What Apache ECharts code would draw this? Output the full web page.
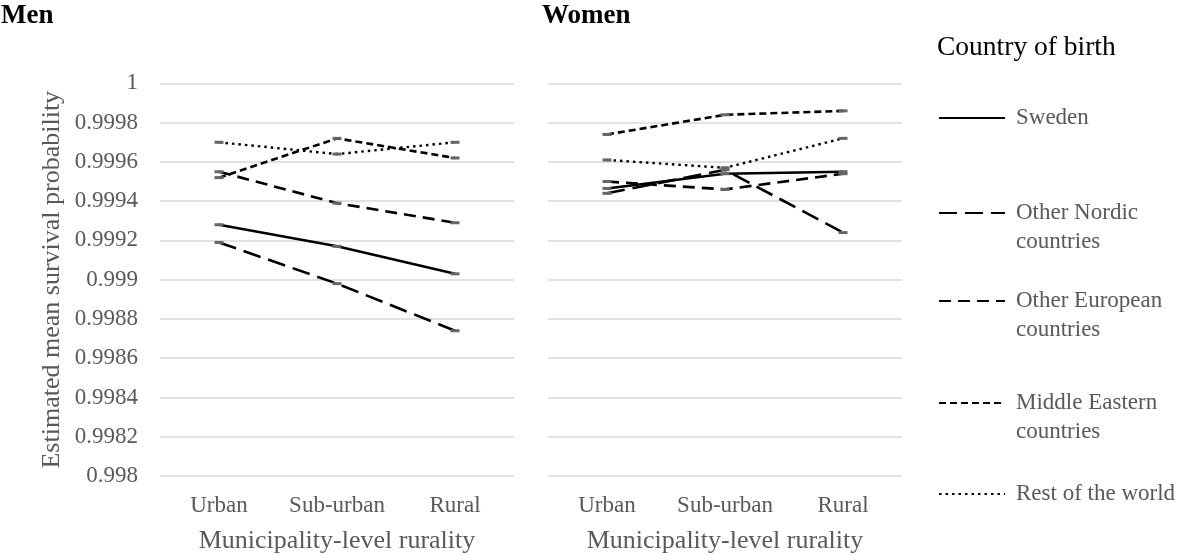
<!DOCTYPE html>
<html>
<head>
<meta charset="utf-8">
<script src="https://cdn.jsdelivr.net/npm/echarts@6/dist/echarts.min.js"></script>
<style>
  html, body { margin: 0; padding: 0; background: #fff; }
  #chart { width: 1179px; height: 555px; }
</style>
</head>
<body>
<div id="chart"></div>
<script>
// Municipality-level rurality categories
const categories = ['Urban', 'Sub-urban', 'Rural'];

// Country-of-birth groups
const countries = [
  'Sweden',
  'Other Nordic countries',
  'Other European countries',
  'Middle Eastern countries',
  'Rest of the world'
];

// Estimated mean survival probability, men
const menSweden   = [0.99928, 0.99917, 0.99903];
const menNordic   = [0.99919, 0.99898, 0.99874];
const menEuropean = [0.99955, 0.99939, 0.99929];
const menMidEast  = [0.99952, 0.99972, 0.99962];
const menRest     = [0.99970, 0.99964, 0.99970];

// Estimated mean survival probability, women
const womenSweden   = [0.999465, 0.99954, 0.99955];
const womenNordic   = [0.99944, 0.99956, 0.99924];
const womenEuropean = [0.99950, 0.99946, 0.99954];
const womenMidEast  = [0.99974, 0.99984, 0.99986];
const womenRest     = [0.99961, 0.99957, 0.99972];

// Y axis tick range
const yMin = 0.998;
const yMax = 1;
const yStep = 0.0002;

const menData = [menSweden, menNordic, menEuropean, menMidEast, menRest];
const womenData = [womenSweden, womenNordic, womenEuropean, womenMidEast, womenRest];

const FONT = 'Liberation Serif';
const GREY = '#595959';

// line dash pattern per country
const dashes = ['solid', [18, 8], [12, 7], [7, 4], [2.5, 4]];
const widths = [2.6, 2.6, 2.6, 2.6, 2.4];

function makeSeries(name, data, idx, panel) {
  return {
    name: name,
    type: 'line',
    xAxisIndex: panel,
    yAxisIndex: panel,
    data: data,
    symbol: 'rect',
    symbolSize: [9, 3],
    itemStyle: { color: '#666' },
    lineStyle: { color: '#000', width: widths[idx], type: dashes[idx] },
    emphasis: { disabled: true },
    animation: false,
    z: 3
  };
}

const series = [];
countries.forEach((c, i) => {
  series.push(makeSeries(c, menData[i], i, 0));
  series.push(makeSeries(c, womenData[i], i, 1));
});

function xAxis(gridIndex) {
  return {
    type: 'category',
    gridIndex: gridIndex,
    data: categories,
    boundaryGap: true,
    axisLine: { show: false },
    axisTick: { show: false },
    axisLabel: { color: GREY, fontFamily: FONT, fontSize: 23, margin: 18, interval: 0 },
    name: 'Municipality-level rurality',
    nameLocation: 'middle',
    nameGap: 52,
    nameTextStyle: { color: GREY, fontFamily: FONT, fontSize: 26 }
  };
}

function yAxis(gridIndex, showLabels) {
  const ax = {
    type: 'value',
    gridIndex: gridIndex,
    min: yMin,
    max: yMax,
    interval: yStep,
    axisLine: { show: false },
    axisTick: { show: false },
    splitLine: { lineStyle: { color: '#d9d9d9', width: 1.5 } },
    axisLabel: {
      show: showLabels,
      color: GREY, fontFamily: FONT, fontSize: 23, margin: 22,
      formatter: v => String(+v.toFixed(4))
    }
  };
  if (showLabels) {
    ax.name = 'Estimated mean survival probability';
    ax.nameLocation = 'middle';
    ax.nameGap = 95;
    ax.nameTextStyle = { color: GREY, fontFamily: FONT, fontSize: 26 };
  }
  return ax;
}

// one legend block per country so each entry sits at its own height;
// two-line entries get a leading blank line so the key lines up with the first text line
const legendTops = [103.5, 169.5, 257.5, 359.5, 479.5];
const legends = countries.map((c, i) => {
  const twoLine = c !== 'Sweden' && c !== 'Rest of the world';
  return {
    data: [c],
    left: 938,
    top: legendTops[i],
    orient: 'vertical',
    padding: 0,
    itemWidth: 66,
    itemHeight: 14,
    selectedMode: false,
    itemStyle: { color: 'transparent', borderColor: 'transparent', borderWidth: 0 },
    formatter: name => twoLine ? '\n' + name.replace(/ (countries)$/, '\n$1') : name,
    textStyle: {
      color: GREY, fontFamily: FONT, fontSize: 23, lineHeight: 29,
      padding: [0, 0, 0, 6]
    }
  };
});

const option = {
  backgroundColor: '#fff',
  animation: false,
  title: [
    { text: 'Men', left: 1, top: 3, padding: 0,
      textStyle: { fontFamily: FONT, fontSize: 27, fontWeight: 'bold', color: '#000' } },
    { text: 'Women', left: 542, top: 3, padding: 0,
      textStyle: { fontFamily: FONT, fontSize: 27, fontWeight: 'bold', color: '#000' } },
    { text: 'Country of birth', left: 937, top: 34, padding: 0,
      textStyle: { fontFamily: FONT, fontSize: 27.5, fontWeight: 'normal', color: '#000' } }
  ],
  legend: legends,
  grid: [
    { left: 160, top: 83.4, width: 354, height: 392.6, outerBoundsMode: 'none' },
    { left: 548, top: 83.4, width: 354, height: 392.6, outerBoundsMode: 'none' }
  ],
  xAxis: [xAxis(0), xAxis(1)],
  yAxis: [yAxis(0, true), yAxis(1, false)],
  series: series
};

const chart = echarts.init(document.getElementById('chart'), null, { renderer: 'canvas' });
chart.setOption(option);
</script>
</body>
</html>
